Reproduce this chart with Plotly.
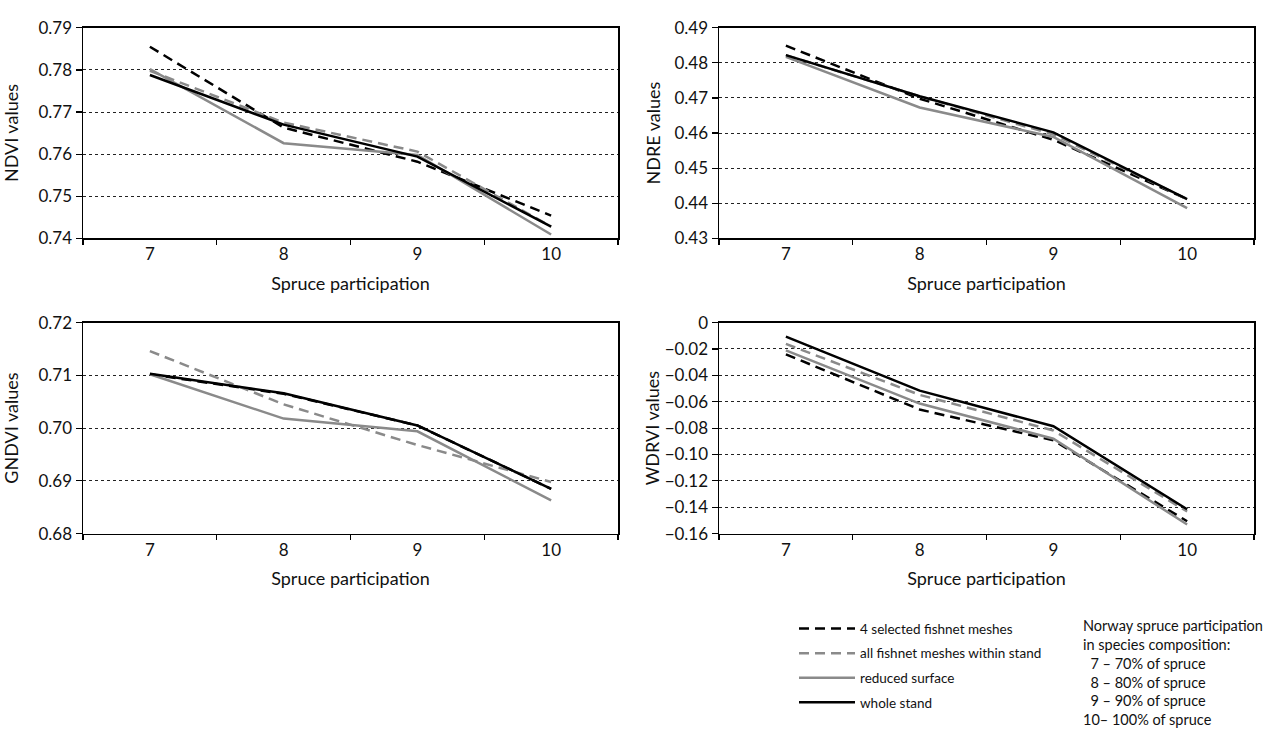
import plotly.graph_objects as go

# ---------------- data ----------------
categories = ["7", "8", "9", "10"]
series_names = ["4 selected fishnet meshes", "all fishnet meshes within stand",
                "reduced surface", "whole stand"]

ndvi_selected = [0.7855, 0.7663, 0.7582, 0.7454]
ndvi_all      = [0.7798, 0.7675, 0.7606, 0.7428]
ndvi_reduced  = [0.7802, 0.7626, 0.7598, 0.7409]
ndvi_whole    = [0.7788, 0.7670, 0.7594, 0.7428]

ndre_selected = [0.4849, 0.4698, 0.4581, 0.4412]
ndre_all      = [0.4822, 0.4705, 0.4596, 0.4412]
ndre_reduced  = [0.4817, 0.4673, 0.4589, 0.4386]
ndre_whole    = [0.4822, 0.4705, 0.4602, 0.4412]

gndvi_selected = [0.7102, 0.7065, 0.7005, 0.6885]
gndvi_all      = [0.7146, 0.7045, 0.6968, 0.6898]
gndvi_reduced  = [0.7102, 0.7018, 0.6994, 0.6863]
gndvi_whole    = [0.7103, 0.7066, 0.7005, 0.6885]

wdrvi_selected = [-0.0241, -0.0659, -0.0892, -0.1506]
wdrvi_all      = [-0.0162, -0.0548, -0.0818, -0.1432]
wdrvi_reduced  = [-0.0211, -0.0614, -0.0880, -0.1531]
wdrvi_whole    = [-0.0106, -0.0516, -0.0786, -0.1415]

ndvi_ticks = [0.74, 0.75, 0.76, 0.77, 0.78, 0.79]
ndvi_ticktext = ["0.74", "0.75", "0.76", "0.77", "0.78", "0.79"]
ndre_ticks = [0.43, 0.44, 0.45, 0.46, 0.47, 0.48, 0.49]
ndre_ticktext = ["0.43", "0.44", "0.45", "0.46", "0.47", "0.48", "0.49"]
gndvi_ticks = [0.68, 0.69, 0.70, 0.71, 0.72]
gndvi_ticktext = ["0.68", "0.69", "0.70", "0.71", "0.72"]
wdrvi_ticks = [-0.16, -0.14, -0.12, -0.10, -0.08, -0.06, -0.04, -0.02, 0]
wdrvi_ticktext = ["\u22120.16", "\u22120.14", "\u22120.12", "\u22120.10", "\u22120.08",
                  "\u22120.06", "\u22120.04", "\u22120.02", "0"]

note_lines = ["Norway spruce participation", "in species composition:",
              "\u00a0\u00a07 \u2013 70% of spruce", "\u00a0\u00a08 \u2013 80% of spruce",
              "\u00a0\u00a09 \u2013 90% of spruce", "10\u2013 100% of spruce"]

# ---------------- styling ----------------
FONT = "Lato, 'Open Sans', sans-serif"
W, H = 1263, 737


def fx(px):
    return px / W


def fy(py):
    return 1 - py / H


styles = [
    dict(color="#000000", dash="10px,6px", width=2.5),
    dict(color="#8a8a8a", dash="10px,6px", width=2.5),
    dict(color="#8a8a8a", dash="solid", width=2.5),
    dict(color="#000000", dash="solid", width=2.5),
]

panels = [
    dict(data=[ndvi_selected, ndvi_all, ndvi_reduced, ndvi_whole], title="NDVI values", st=16,
         ticks=ndvi_ticks, ticktext=ndvi_ticktext, rng=[0.74, 0.79], px=(83, 618), py=(17.3, 234)),
    dict(data=[ndre_selected, ndre_all, ndre_reduced, ndre_whole], title="NDRE values", st=9,
         ticks=ndre_ticks, ticktext=ndre_ticktext, rng=[0.43, 0.49], px=(719, 1254), py=(17.3, 234)),
    dict(data=[gndvi_selected, gndvi_all, gndvi_reduced, gndvi_whole], title="GNDVI values", st=16,
         ticks=gndvi_ticks, ticktext=gndvi_ticktext, rng=[0.68, 0.72], px=(83, 618), py=(320.7, 538)),
    dict(data=[wdrvi_selected, wdrvi_all, wdrvi_reduced, wdrvi_whole], title="WDRVI values", st=0,
         ticks=wdrvi_ticks, ticktext=wdrvi_ticktext, rng=[-0.16, 0], px=(719, 1254), py=(320.7, 538)),
]

fig = go.Figure()
layout = {}
for i, p in enumerate(panels):
    n = "" if i == 0 else str(i + 1)
    for k, (name, vals) in enumerate(zip(series_names, p["data"])):
        fig.add_trace(go.Scatter(
            x=categories, y=vals, mode="lines", name=name, legendgroup="g%d" % k,
            line=dict(color=styles[k]["color"], dash=styles[k]["dash"], width=styles[k]["width"]),
            xaxis="x" + n, yaxis="y" + n, showlegend=(i == 0), legendrank=k,
            hoverinfo="skip"))
    layout["xaxis" + n] = dict(
        domain=[fx(p["px"][0]), fx(p["px"][1])], anchor="y" + n, type="category",
        range=[-0.5, 3.5], showline=True, linecolor="#000", linewidth=1.5, mirror=True,
        ticks="outside", tickson="boundaries", ticklen=5, tickcolor="#000", tickwidth=1.2,
        showgrid=False, tickfont=dict(family=FONT, size=17, color="#111"),
        title=dict(text="Spruce participation", font=dict(family=FONT, size=18, color="#111"),
                   standoff=14),
        fixedrange=True)
    layout["yaxis" + n] = dict(
        domain=[fy(p["py"][1]), fy(p["py"][0])], anchor="x" + n,
        range=p["rng"], tickvals=p["ticks"], ticktext=p["ticktext"],
        showline=True, linecolor="#000", linewidth=1.5, mirror=True,
        ticks="outside", ticklen=6, tickcolor="#000", tickwidth=1.2,
        showgrid=True, gridcolor="#222", griddash="dot", gridwidth=1, zeroline=False,
        tickfont=dict(family=FONT, size=17, color="#111"),
        title=dict(text=p["title"], font=dict(family=FONT, size=18, color="#111"), standoff=p["st"]),
        fixedrange=True)

fig.update_layout(
    width=W, height=H, margin=dict(l=0, r=0, t=0, b=0),
    paper_bgcolor="white", plot_bgcolor="white",
    font=dict(family=FONT, color="#111"),
    legend=dict(x=fx(794), y=fy(620), xanchor="left", yanchor="top",
                font=dict(family=FONT, size=13.5, color="#111"), bgcolor="rgba(0,0,0,0)",
                traceorder="grouped", itemwidth=56, tracegroupgap=4),
    annotations=[dict(text="<br>".join(note_lines), x=fx(1081), y=fy(622),
                      xref="paper", yref="paper", xanchor="left", yanchor="top",
                      align="left", showarrow=False,
                      font=dict(family=FONT, size=14.5, color="#111"))],
    **layout,
)

fig.write_html(
    "out.html",
    config={"displayModeBar": False, "staticPlot": True},
    post_script="document.body.style.margin='0';document.body.style.overflow='hidden';",
)
